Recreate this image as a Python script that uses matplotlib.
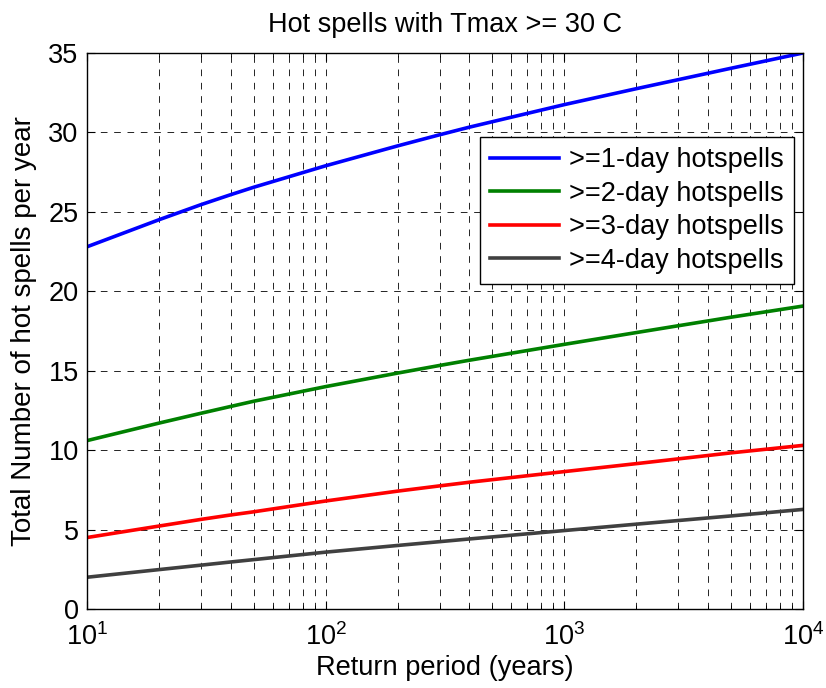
import numpy as np
import matplotlib.pyplot as plt

plt.rcParams['font.family'] = ['Liberation Sans', 'DejaVu Sans']
plt.rcParams['mathtext.fontset'] = 'custom'
plt.rcParams['mathtext.rm'] = 'Liberation Sans'
plt.rcParams['mathtext.it'] = 'Liberation Sans'

# return periods (years) and hot spell counts
return_period = [10, 20, 30, 40, 50, 100, 200, 300, 400, 1000, 2000, 3000, 5000, 10000]
spells_1day = [22.8, 24.5, 25.45, 26.08, 26.55, 27.9, 29.15, 29.85, 30.33, 31.75, 32.75, 33.32, 34.04, 35.0]
spells_2day = [10.6, 11.7, 12.32, 12.75, 13.08, 14.0, 14.85, 15.33, 15.66, 16.66, 17.4, 17.83, 18.37, 19.07]
spells_3day = [4.5, 5.22, 5.64, 5.92, 6.12, 6.8, 7.42, 7.75, 7.98, 8.65, 9.15, 9.45, 9.83, 10.3]
spells_4day = [2.0, 2.48, 2.76, 2.96, 3.11, 3.58, 4.0, 4.24, 4.41, 4.94, 5.34, 5.57, 5.86, 6.27]

labels = ['>=1-day hotspells', '>=2-day hotspells', '>=3-day hotspells', '>=4-day hotspells']
colors = [(0, 0, 1), (0, 0.5, 0), (1, 0, 0), (0.25, 0.25, 0.25)]

fig = plt.figure(figsize=(8.26, 6.88), dpi=100)
ax = fig.add_axes([0.1053, 0.1148, 0.8669, 0.8082])

for ys, lab, c in zip([spells_1day, spells_2day, spells_3day, spells_4day], labels, colors):
    ax.plot(return_period, ys, color=c, lw=2.6, label=lab, solid_joinstyle='round')

ax.set_xscale('log')
ax.set_xlim(10, 10000)
ax.set_ylim(0, 35)
ax.set_yticks(np.arange(0, 36, 5))

ax.grid(True, which='both', axis='x', color='k', ls=(0, (8, 8)), lw=0.6)
ax.grid(True, which='major', axis='y', color='k', ls=(0, (8, 8)), lw=0.6)
ax.tick_params(which='both', direction='in', top=True, right=True, labelsize=19.5)
ax.tick_params(axis='x', pad=10)
ax.tick_params(axis='y', pad=6)
ax.tick_params(which='major', length=6)
ax.tick_params(which='minor', length=3)
for s in ax.spines.values():
    s.set_linewidth(1.0)

ax.set_title('Hot spells with Tmax >= 30 C', fontsize=19.5, pad=15)
ax.set_xlabel('Return period (years)', fontsize=19.6, labelpad=3)
ax.set_ylabel('Total Number of hot spells per year', fontsize=20, labelpad=8)

leg = ax.legend(loc='upper left', bbox_to_anchor=(0.581, 0.801), bbox_transform=fig.transFigure,
                fontsize=19.5, handlelength=2.55, fancybox=False, framealpha=1,
                borderpad=0.38, labelspacing=0.28, handletextpad=0.35, borderaxespad=0)
leg.get_frame().set_edgecolor('k')
leg.get_frame().set_linewidth(1.0)

fig.savefig('out.png', dpi=100)
